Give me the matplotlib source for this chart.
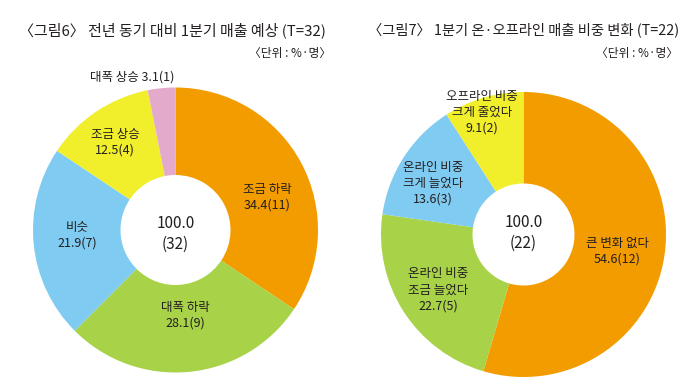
import matplotlib
matplotlib.use("Agg")
import matplotlib.pyplot as plt

plt.rcParams['font.family'] = ['Noto Sans CJK KR', 'DejaVu Sans']

# ---- data ----
left_labels = ["조금 하락", "대폭 하락", "비슷", "조금 상승", "대폭 상승"]
left_pct = [34.4, 28.1, 21.9, 12.5, 3.1]
left_cnt = [11, 9, 7, 4, 1]
left_total = "100.0\n(32)"
left_title = "〈그림6〉 전년 동기 대비 1분기 매출 예상 (T=32)"

right_labels = ["큰 변화 없다", "온라인 비중\n조금 늘었다", "온라인 비중\n크게 늘었다", "오프라인 비중\n크게 줄었다"]
right_pct = [54.6, 22.7, 13.6, 9.1]
right_cnt = [12, 5, 3, 2]
right_total = "100.0\n(22)"
right_title = "〈그림7〉 1분기 온·오프라인 매출 비중 변화 (T=22)"

unit_text = "〈단위 : %·명〉"

left_colors = ["#F29C00", "#A8D248", "#80CBF1", "#F1EE2C", "#E4AACB"]
right_colors = ["#F29C00", "#A8D248", "#80CBF1", "#F1EE2C"]

W, H = 700, 392
fig = plt.figure(figsize=(7, 3.92), dpi=100)
ax = fig.add_axes([0, 0, 1, 1])

def Y(py):
    return H - py

# left pie
R = 142.5
ax.pie(left_cnt, colors=left_colors, startangle=90, counterclock=False,
       center=(175.5, Y(230)), radius=R, frame=True,
       wedgeprops=dict(width=R - 55, linewidth=0))
# right pie
ax.pie(right_cnt, colors=right_colors, startangle=90, counterclock=False,
       center=(523.5, Y(234.5)), radius=R, frame=True,
       wedgeprops=dict(width=R - 51, linewidth=0))
ax.set_xlim(0, W)
ax.set_ylim(0, H)
ax.set_aspect('equal')
ax.axis('off')

fs = 9
tc = "#231f20"
left_pos = [(267, 197), (185, 315), (77, 235), (115, 142), None]
for lab, p, c, pos in zip(left_labels, left_pct, left_cnt, left_pos):
    if pos is None:
        continue
    ax.text(pos[0], Y(pos[1]), f"{lab}\n{p:.1f}({c})", ha='center', va='center',
            fontsize=fs, color=tc, linespacing=1.3)
# small slice label outside
ax.text(132, Y(77), f"{left_labels[4]} {left_pct[4]:.1f}({left_cnt[4]})",
        ha='center', va='center', fontsize=fs, color=tc)
ax.text(175.5, Y(234), left_total, ha='center', va='center', fontsize=11,
        color=tc, linespacing=1.3)

right_pos = [(617, 251), (438, 290), (433, 183), (482, 112)]
for lab, p, c, pos in zip(right_labels, right_pct, right_cnt, right_pos):
    ax.text(pos[0], Y(pos[1]), f"{lab}\n{p:.1f}({c})", ha='center', va='center',
            fontsize=fs, color=tc, linespacing=1.3)
ax.text(523.5, Y(233), right_total, ha='center', va='center', fontsize=11,
        color=tc, linespacing=1.3)

# titles
ax.text(19, Y(30), left_title, ha='left', va='center', fontsize=10.8, color=tc)
ax.text(331, Y(53), unit_text, ha='right', va='center', fontsize=8.5, color=tc)
ax.text(368, Y(30), right_title, ha='left', va='center', fontsize=10.3, color=tc)
ax.text(678, Y(53), unit_text, ha='right', va='center', fontsize=8.5, color=tc)

fig.savefig("out.png", dpi=100, facecolor='white')
